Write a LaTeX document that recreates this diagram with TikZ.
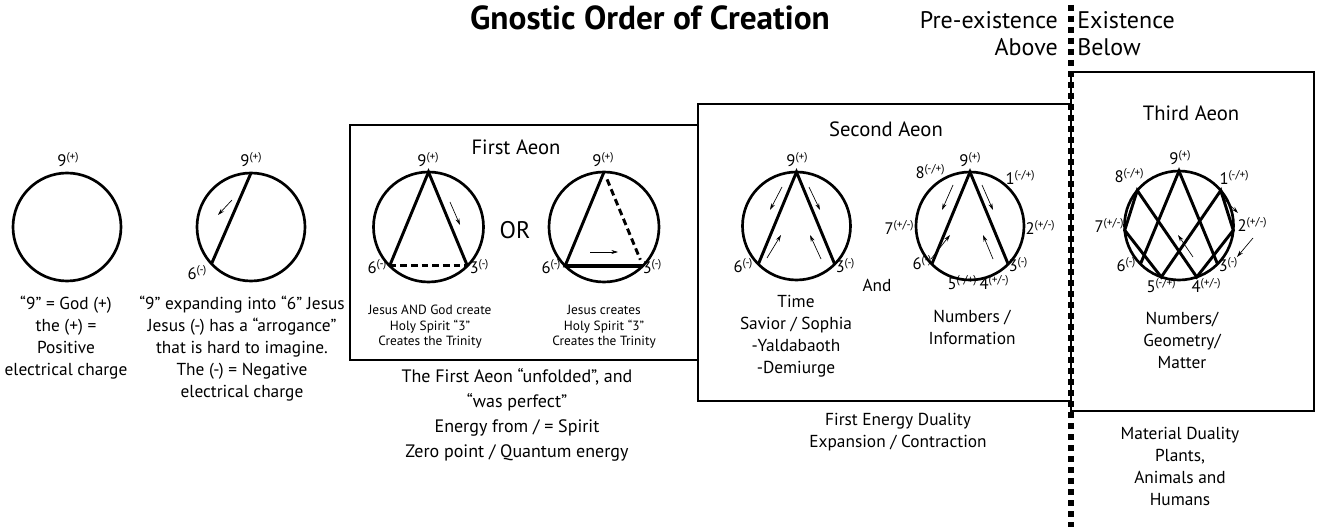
\documentclass[tikz,border=0pt]{standalone}
\usepackage{fontspec}
\setmainfont{PT Sans}
\usetikzlibrary{arrows.meta,calc}

\newcommand{\enn}[2]{#1\raisebox{0.8ex}{\fontsize{8.5}{9}\selectfont#2}}

\tikzset{
  ring/.style={line width=2pt},
  chord/.style={line width=2.2pt},
  gap/.style={line width=2.2pt, dash pattern=on 5pt off 3pt},
  flow/.style={line width=0.5pt, -{Stealth[length=5pt,width=3pt]}},
  num/.style={inner sep=0pt, anchor=base, font=\fontsize{12.5}{13}\selectfont},
  body/.style={align=center, font=\fontsize{13}{16.5}\selectfont},
  small/.style={align=center, font=\fontsize{10}{11.6}\selectfont},
  head/.style={font=\fontsize{15.5}{18}\selectfont},
  side/.style={inner sep=0pt, font=\fontsize{18}{20}\selectfont},
  frame/.style={line width=1.3pt},
}

\begin{document}
\begin{tikzpicture}[x=0.75pt,y=0.75pt]
\useasboundingbox (0,0) rectangle (1318,-527);

% title and the border between pre-existence and existence
\node[font=\bfseries\fontsize{25}{28}\selectfont] (title) at (650,-18) {Gnostic Order of Creation};
\node[side, anchor=east] (pre) at (1058,-20) {Pre-existence};
\node[side, anchor=east] (abv) at (1058,-47) {Above};
\node[side, anchor=west] (ex) at (1077,-20) {Existence};
\node[side, anchor=west] (blw) at (1077,-47) {Below};

% boxes
\draw[frame] (350,-125) rectangle (698,-360);
\draw[frame] (698,-104) rectangle (1071,-401);
\draw[line width=2.2pt] (1071,-72) rectangle (1314,-411);
\draw[line width=4pt, dash pattern=on 4.5pt off 3.75pt] (1071,-5) -- (1071,-527);

% God
\coordinate (g) at (67,-227);
\draw[ring] (g) circle[radius=54];
\node[num] (g9) at (68,-167) {\enn{9}{(+)}};
\node[body] (capg) at (66,-338) {“9” = God (+)\\the (+) =\\Positive\\electrical charge};

% Jesus
\coordinate (j) at (251,-227);
\coordinate (j9) at ($(j)+(90:54)$);
\coordinate (j6) at ($(j)+(223:54)$);
\draw[ring] (j) circle[radius=54];
\draw[chord] (j9) -- (j6);
\draw[flow] (232,-200) -- (218,-215);
\node[num] (lj9) at (251,-167) {\enn{9}{(+)}};
\node[num] (lj6) at (197,-280) {\enn{6}{(-)}};
\node[body] (capj) at (242,-349) {“9” expanding into “6” Jesus\\Jesus (-) has a “arrogance”\\that is hard to imagine.\\The (-) = Negative\\electrical charge};

% First Aeon
\node[head] (h1) at (516,-147) {First Aeon};
\coordinate (a) at (428.5,-227);
\coordinate (a9) at ($(a)+(90:55)$);
\coordinate (a6) at ($(a)+(225:55)$);
\coordinate (a3) at ($(a)+(315:55)$);
\draw[ring] (a) circle[radius=55];
\draw[chord] (a6) -- (a9) -- (a3);
\draw[gap] (a6) -- (a3);
\draw[flow] (450,-202) -- (460,-225);
\node[num] (la9) at (428,-167) {\enn{9}{(+)}};
\node[num] (la6) at (377,-274) {\enn{6}{(-)}};
\node[num] (la3) at (479,-274) {\enn{3}{(-)}};
\node[font=\fontsize{18}{20}\selectfont] (or) at (515,-230) {OR};
\coordinate (b) at (604,-227);
\coordinate (b9) at ($(b)+(90:55)$);
\coordinate (b6) at ($(b)+(225:55)$);
\coordinate (b3) at ($(b)+(315:55)$);
\draw[ring] (b) circle[radius=55];
\draw[chord] (b3) -- (b6) -- (b9);
\draw[line width=3pt] (b6) -- (b3);
\draw[gap, shorten <=6, shorten >=5] (b9) -- (b3);
\draw[flow] (590,-252) -- (618,-252);
\node[num] (lb9) at (603,-167) {\enn{9}{(+)}};
\node[num] (lb6) at (551,-274) {\enn{6}{(-)}};
\node[num] (lb3) at (652,-274) {\enn{3}{(-)}};
\node[small] (capa) at (430,-327) {Jesus AND God create\\Holy Spirit “3”\\Creates the Trinity};
\node[small] (capb) at (604,-327) {Jesus creates\\Holy Spirit “3”\\Creates the Trinity};
\node[body, font=\fontsize{13.5}{18.75}\selectfont] (cap1) at (517,-415) {The First Aeon “unfolded”, and\\“was perfect”\\Energy from / = Spirit\\Zero point / Quantum energy};

% Second Aeon
\node[head] (h2) at (886,-129) {Second Aeon};
\coordinate (s) at (796.5,-226);
\coordinate (s9) at ($(s)+(90:54)$);
\coordinate (s6) at ($(s)+(225:54)$);
\coordinate (s3) at ($(s)+(315:54)$);
\draw[ring] (s) circle[radius=54];
\draw[chord] (s6) -- (s9) -- (s3);
\draw[flow] (782,-187) -- (770,-210);
\draw[flow] (767,-258) -- (781,-235);
\draw[flow] (809,-187) -- (820,-210);
\draw[flow] (821,-259) -- (810,-235);
\node[num] (ls9) at (797,-167) {\enn{9}{(+)}};
\node[num] (ls6) at (743,-273) {\enn{6}{(-)}};
\node[num] (ls3) at (845,-273) {\enn{3}{(-)}};
\node[body] (capt) at (796,-336.5) {Time\\Savior / Sophia\\-Yaldabaoth\\-Demiurge};
\node[body] (and) at (877,-285) {And};
\coordinate (n) at (970,-226);
\foreach \k/\ang in {9/90,1/40,2/-5,3/-45,4/-71,5/-109,6/-135,7/185,8/140}
  \coordinate (n\k) at ($(n)+(\ang:54)$);
\draw[ring] (n) circle[radius=54];
\draw[chord] (n6) -- (n9) -- (n3);
\draw[flow] (953,-185) -- (942,-210);
\draw[flow] (931,-259) -- (950,-235);
\draw[flow] (982,-185) -- (993,-210);
\draw[flow] (993,-259) -- (983,-235);
\node[num] (ln9) at (970,-167) {\enn{9}{(+)}};
\node[num] (ln8) at (930,-179) {\enn{8}{(-/+)}};
\node[num] (ln1) at (1020,-185) {\enn{1}{(-/+)}};
\node[num] (ln2) at (1040,-235) {\enn{2}{(+/-)}};
\node[num] (ln3) at (1018,-272) {\enn{3}{(-)}};
\node[num] (ln4) at (994,-290) {\enn{4}{(+/-)}};
\node[num] (ln5) at (962,-290) {\enn{5}{(-/+)}};
\node[num] (ln6) at (922,-270) {\enn{6}{(-)}};
\node[num] (ln7) at (899,-235) {\enn{7}{(+/-)}};
\node[body] (capn) at (972,-327.5) {Numbers /\\Information};
\node[body] (cap2) at (898,-432.5) {First Energy Duality\\Expansion / Contraction};

% Third Aeon
\node[head] (h3) at (1191,-113) {Third Aeon};
\coordinate (t) at (1179,-225.5);
\foreach \k/\ang in {9/90,1/40,2/-5,3/-45,4/-71,5/-109,6/-135,7/185,8/140}
  \coordinate (t\k) at ($(t)+(\ang:54.5)$);
\draw[ring] (t) circle[radius=54.5];
\draw[chord] (t6) -- (t9) -- (t3);
\draw[chord] (t5) -- (t7) -- (t8) -- (t4) -- (t2) -- (t1) -- cycle;
\draw[flow] (1221.7,-196.7) -- (1238,-213);
\draw[flow] (1253,-238) -- (1237,-257);
\draw[flow] (1193,-257) -- (1178,-235);
\node[num] (lt9) at (1180,-165) {\enn{9}{(+)}};
\node[num] (lt8) at (1129,-183) {\enn{8}{(-/+)}};
\node[num] (lt1) at (1234,-185) {\enn{1}{(-/+)}};
\node[num] (lt2) at (1252,-232) {\enn{2}{(+/-)}};
\node[num] (lt3) at (1228,-272) {\enn{3}{(-)}};
\node[num] (lt4) at (1206,-293) {\enn{4}{(+/-)}};
\node[num] (lt5) at (1161,-293) {\enn{5}{(-/+)}};
\node[num] (lt6) at (1126,-272) {\enn{6}{(-)}};
\node[num] (lt7) at (1109,-233) {\enn{7}{(+/-)}};
\node[body] (capm) at (1182,-340) {Numbers/\\Geometry/\\Matter};
\node[body] (cap3) at (1180,-466) {Material Duality\\Plants,\\Animals and\\Humans};
\end{tikzpicture}
\end{document}
